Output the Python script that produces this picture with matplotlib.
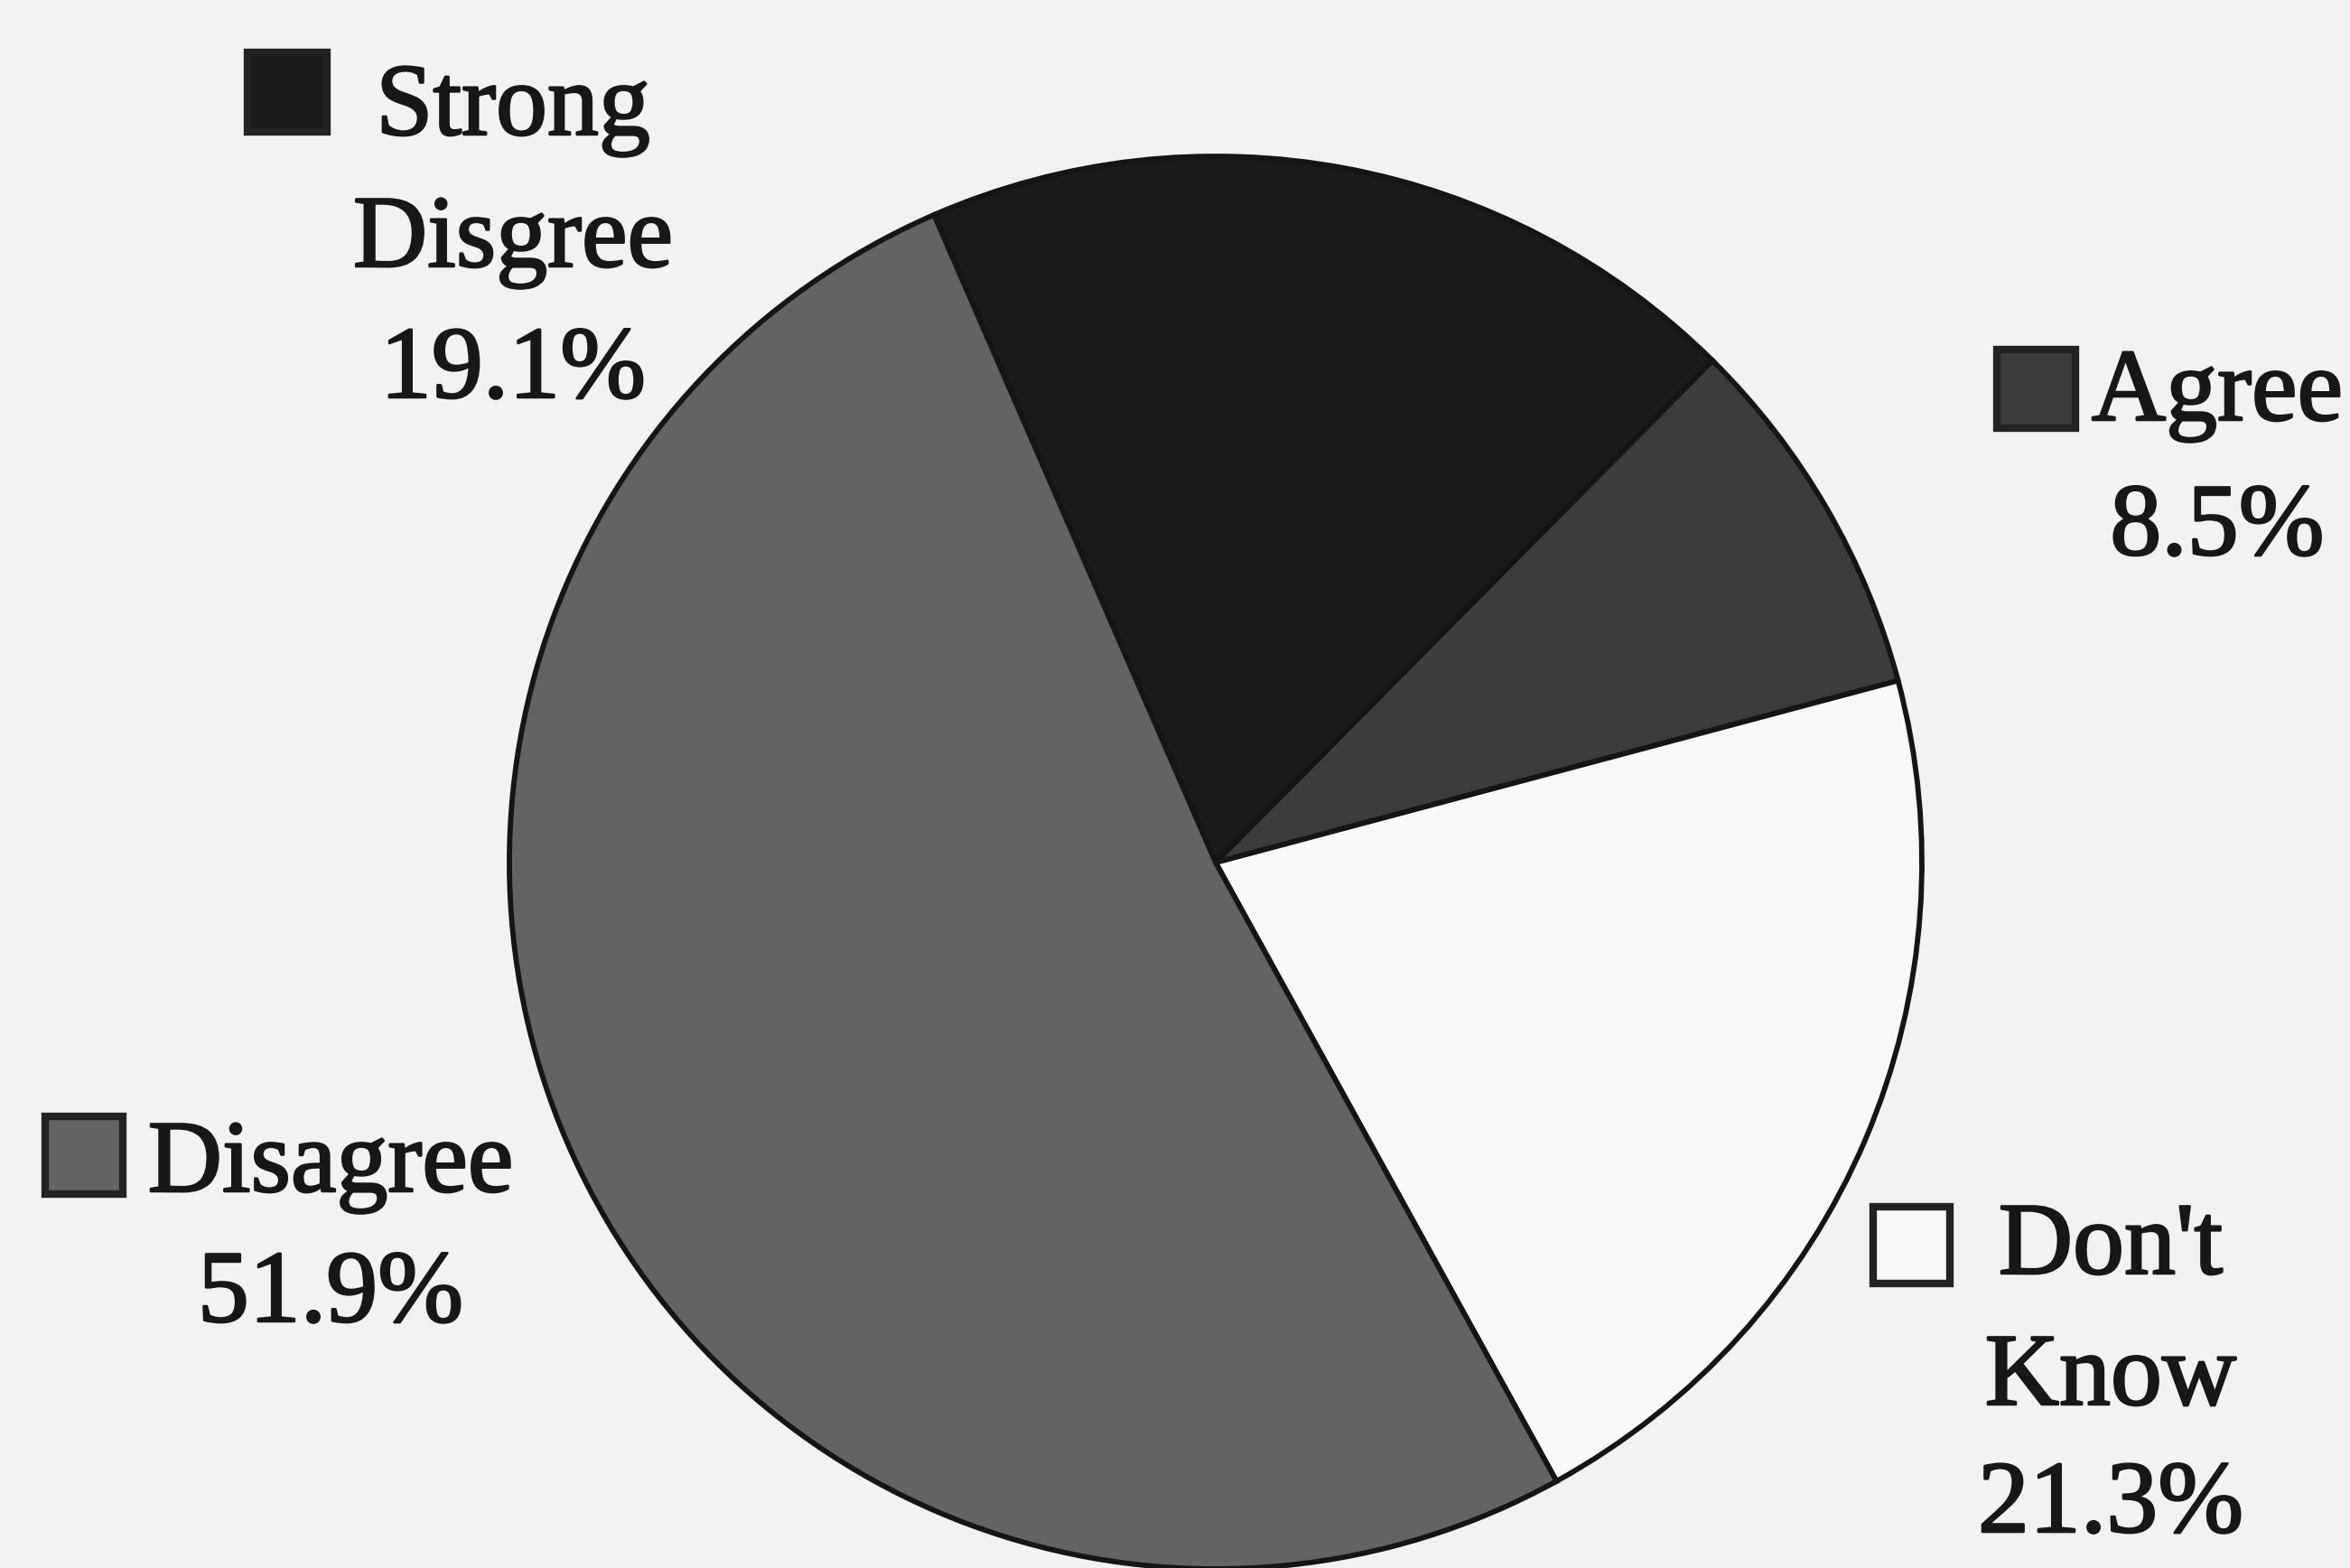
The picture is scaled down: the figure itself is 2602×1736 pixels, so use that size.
import matplotlib.pyplot as plt
import matplotlib.patheffects as pe
from matplotlib.patches import Rectangle

# Data
categories = ["Strong Disgree", "Agree", "Don't Know", "Disagree"]
percents = [19.1, 8.5, 21.3, 51.9]
colors = ["#1a1a1a", "#3c3c3c", "#f8f8f8", "#636363"]

W, H = 2602, 1736
fig = plt.figure(figsize=(W / 100, H / 100), dpi=100)
fig.patch.set_facecolor("#f2f2f2")
ax = fig.add_axes([0, 0, 1, 1])


def py(y):
    # pixel row from the top -> data y
    return H - y


ax.pie(percents, colors=colors, startangle=113.5, counterclock=False,
       center=(1346, py(955)), radius=782,
       wedgeprops=dict(edgecolor="#151515", linewidth=4.2))

# pie() sets its own limits, so put the pixel frame back afterwards
ax.set_xlim(0, W)
ax.set_ylim(0, H)
ax.set_aspect("equal")
ax.axis("off")

font = dict(family="Liberation Serif", fontsize=82, color="#171717",
            path_effects=[pe.withStroke(linewidth=1.8, foreground="#171717")])

# label layout: (lines, centre x, baselines, marker box (x0, y0, size))
layout = [
    (["Strong", "Disgree", "{:.1f}%"], 568, [149, 295, 440], (274, 58, 88)),
    (["Agree", "{:.1f}%"], 2455, [465, 614], (2211, 387, 87)),
    (["Don't", "Know", "{:.1f}%"], 2337, [1410, 1555, 1696], (2074, 1336, 85)),
    (["Disagree", "{:.1f}%"], 366, [1319, 1463], (50, 1236, 86)),
]

for (lines, cx, bases, box), pct, col in zip(layout, percents, colors):
    for ln, b in zip(lines, bases):
        ax.text(cx, py(b), ln.format(pct), ha="center", va="baseline", **font)
    x0, y0, s = box
    ax.add_patch(Rectangle((x0, py(y0 + s)), s, s, facecolor=col,
                           edgecolor="#222222", linewidth=6))

fig.savefig("out.png", dpi=100, facecolor=fig.get_facecolor())
